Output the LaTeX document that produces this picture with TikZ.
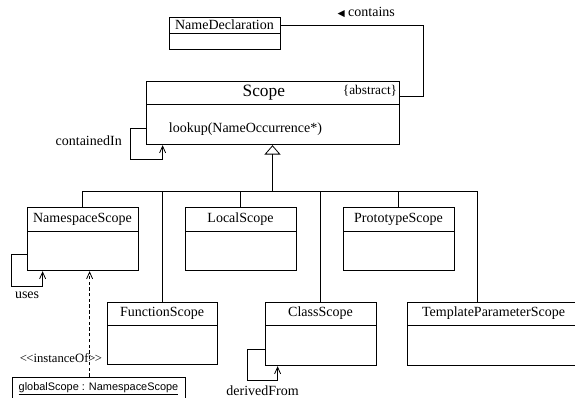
\documentclass[tikz,border=0pt]{standalone}
\usepackage{fontspec}
\setmainfont{Liberation Serif}
\setsansfont{Liberation Sans}
\newfontfamily\symfont{DejaVu Sans}
\usetikzlibrary{positioning,calc,arrows.meta}
\tikzset{
  classhead/.style = {shape=rectangle, draw, line width=0.6pt,
          inner sep=0pt, minimum width=83.25pt, minimum height=18pt},
  classbody/.style = {classhead, minimum height=29.25pt},
  wire/.style      = {draw, line width=0.6pt},
  assoc/.style     = {wire, -{Straight Barb[length=5pt,width=4.5pt]}},
  gen/.style       = {wire, -{Triangle[open,length=7pt,width=12pt]}},
  dep/.style       = {assoc, dash pattern=on 2.5pt off 1.8pt}
}

\begin{document}
\begin{tikzpicture}
  [
    x = 0.75pt,
    y = -0.75pt,
    every node/.style = {font=\fontsize{10.5}{12}\selectfont}
  ]
  \useasboundingbox (0,0) rectangle (575,398);

  % top classes
  \node [classhead, minimum height=12pt] (decl) at (224.5,25) {NameDeclaration};
  \node [classbody, minimum height=12pt, below=0pt of decl] (declb) {};
  \node [classhead, minimum width=189.75pt, minimum height=17.25pt,
         font=\fontsize{13}{15}\selectfont] (scope) at (272.5,92.5) {Scope\hspace*{13pt}};
  \node [classbody, minimum width=189.75pt, minimum height=30pt,
         below=0pt of scope] (scopeb) {};
  \node [anchor=east, inner sep=1.5pt, font=\fontsize{10}{12}\selectfont]
        (abstr) at ($(scope.east)+(0,-2)$) {\{abstract\}};
  \node [anchor=west, inner sep=0pt] (lookup) at ($(scopeb.west)+(23,4)$)
        {lookup(NameOccurrence*)};

  % subclasses
  \node [classhead] (ns) at (82.5,219) {NamespaceScope};
  \node [classbody, below=0pt of ns] (nsb) {};
  \node [classhead] (local) at (240.5,219) {LocalScope};
  \node [classbody, below=0pt of local] (localb) {};
  \node [classhead] (proto) at (398.5,219) {PrototypeScope};
  \node [classbody, below=0pt of proto] (protob) {};
  \node [classhead, minimum width=82.5pt, minimum height=17.25pt] (func) at (162,313.5) {FunctionScope};
  \node [classbody, minimum width=82.5pt, below=0pt of func] (funcb) {};
  \node [classhead, minimum height=17.25pt] (cls) at (320.5,313.5) {ClassScope};
  \node [classbody, minimum height=30pt, below=0pt of cls] (clsb) {};
  \node [classhead, minimum width=129.75pt, minimum height=17.25pt] (tps) at (493.5,313.5) {TemplateParameterScope};
  \node [classbody, minimum width=129.75pt, minimum height=30pt, below=0pt of tps] (tpsb) {};

  % object
  \node [classhead, minimum width=129.75pt, font=\sffamily\fontsize{8.2}{10}\selectfont]
        (glob) at (98.5,389) {\underline{globalScope : NamespaceScope}};

  % generalization
  \coordinate (bus) at (272.5,191);
  \draw [gen] (bus) -- (scopeb.south);
  \draw [wire] (ns.north) |- (bus);
  \draw [wire] (local.north) |- (bus);
  \draw [wire] (proto.north) |- (bus);
  \draw [wire] (func.north) |- (bus);
  \draw [wire] (cls.north) |- (bus);
  \draw [wire] ($(tps.north west)+(71,0)$) |- (bus);

  % associations
  \draw [wire] (decl.east) -- node [pos=0.6, above=2pt]
        {{\symfont\fontsize{7}{8}\selectfont ◀}\ contains} ++(143,0)
        |- ($(scope.east)+(0,3.5)$);
  \draw [assoc] ($(scopeb.west)+(0,4)$) -- ++(-15,0)
        -- node [pos=0.38, left=3pt] {containedIn} ++(0,31)
        -- ++(32,0) -- ($(scopeb.south west)+(17,0)$);
  \draw [assoc] ($(nsb.west)+(0,3.5)$) -- ++(-15,0) -- ++(0,32)
        -- node [below] {uses} ++(31,0) -- ($(nsb.south west)+(16,0)$);
  \draw [assoc] ($(clsb.west)+(0,4)$) -- ++(-17,0) -- ++(0,31)
        -- node [below] {derivedFrom} ++(30,0) -- ($(clsb.south west)+(13,0)$);
  \draw [dep] ($(glob.north west)+(78,0)$)
        -- node [pos=0.18, anchor=east, xshift=13pt, font=\fontsize{9.5}{11}\selectfont]
        {\textless\kern-0.5pt\textless\kern0pt instanceOf\textgreater\kern-0.5pt\textgreater}
        ($(nsb.south west)+(63,0)$);
\end{tikzpicture}
\end{document}
